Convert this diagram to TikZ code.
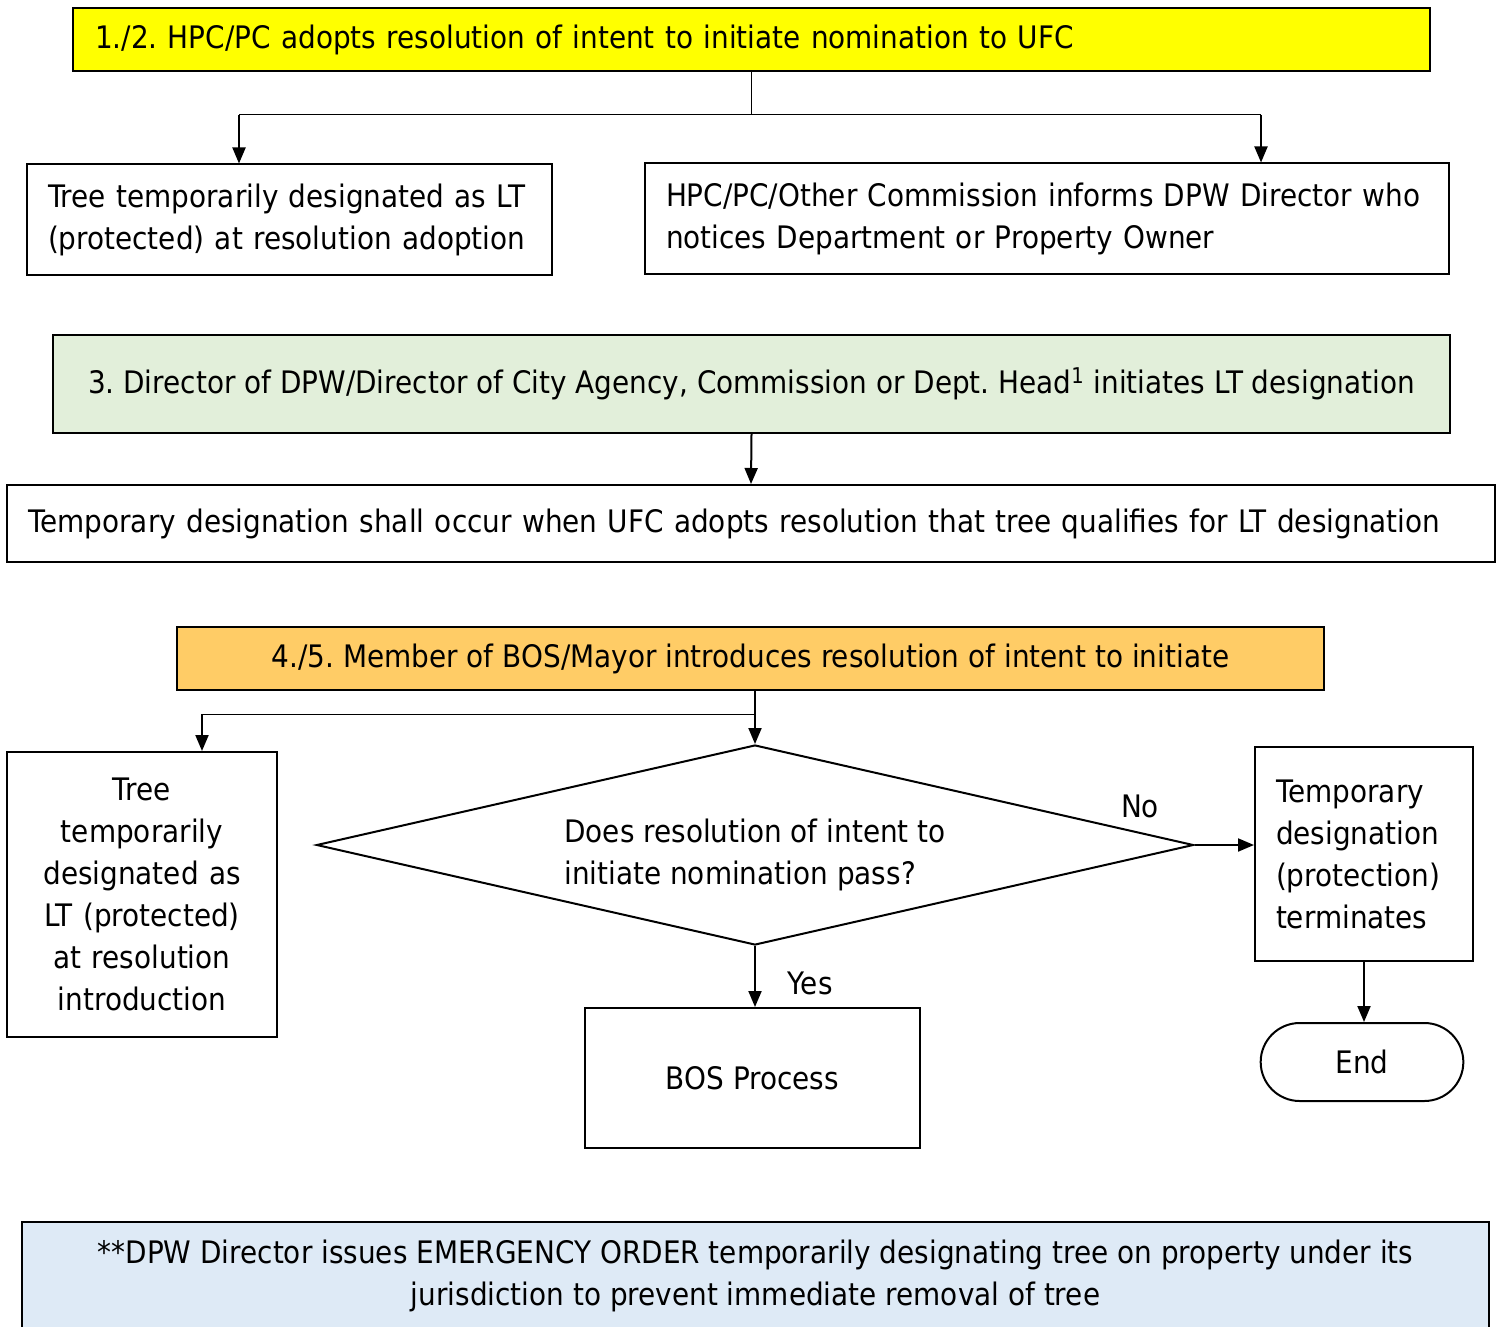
\documentclass[tikz,border=0pt]{standalone}
\usepackage{fontspec}
\setmainfont{DejaVu Sans}[FakeStretch=0.9]
\usetikzlibrary{positioning, arrows, arrows.meta, shapes.geometric, shapes.misc}
\definecolor{stepyellow}{RGB}{255,255,0}
\definecolor{stepgreen}{RGB}{226,239,218}
\definecolor{steporange}{RGB}{255,204,102}
\definecolor{stepblue}{RGB}{222,234,246}
\frenchspacing

\begin{document}
\begin{tikzpicture}[x=0.5pt,y=-0.5pt,>={Triangle[length=8pt,width=6.5pt]},
    font=\fontsize{15.5}{21}\selectfont,
    base box/.style={rectangle,draw,line width=1pt,inner ysep=0pt,inner xsep=10.5pt},
    left box/.style={base box,align=left},
    mid box/.style={base box,align=center},
    flow/.style={->,line width=1pt},
    branch/.style={line width=0.5pt}]

\useasboundingbox (0,0) rectangle (1502,1326);

% first stage
\node[left box,fill=stepyellow,text width=656.5pt,inner xsep=11pt,minimum height=31.5pt]
    (ufc) at (751.5,39.5) {1./2. HPC/PC adopts resolution of intent to initiate nomination to UFC};
\node[left box,text width=241.5pt,minimum height=55.5pt]
    (lt) at (289.5,220) {Tree temporarily designated as LT\\(protected) at resolution adoption};
\node[left box,text width=381pt,minimum height=55.5pt]
    (dpw) at (1047,219) {HPC/PC/Other Commission informs DPW Director who\\notices Department or Property Owner};

\coordinate (splitL) at (239,115);
\coordinate (splitR) at (1261,115);
\draw[branch] (ufc.south) -- (ufc.south |- splitL);
\draw[branch] (splitL) -- (splitR);
\draw[flow] (splitL) -- (splitL |- lt.north);
\draw[flow] (splitR) -- (splitR |- dpw.north);

% second stage
\node[mid box,fill=stepgreen,minimum width=698.5pt,minimum height=49pt]
    (head) at (751.5,384) {3. Director of DPW/Director of City Agency, Commission or Dept. Head\textsuperscript{1} initiates LT designation};
\node[left box,text width=723pt,minimum height=38.5pt]
    (tmp) at (751,523.5) {Temporary designation shall occur when UFC adopts resolution that tree qualifies for LT designation};
\draw[flow] (head.south) -- (tmp.north);

% third stage
\node[mid box,fill=steporange,minimum width=573.5pt,minimum height=31.5pt]
    (bos) at (750.5,658.5) {4./5. Member of BOS/Mayor introduces resolution of intent to initiate};
\node[mid box,text width=114pt,inner xsep=10.5pt,minimum height=142.5pt]
    (intro) at (142,894.5) {Tree\\temporarily\\designated as\\LT (protected)\\at resolution\\introduction};
\node[diamond,draw,line width=1pt,align=left,aspect=4.4,inner sep=0pt,
    minimum width=438.5pt,minimum height=100pt]
    (pass) at (755,845) {\rule{0pt}{22pt}Does resolution of intent to\\initiate nomination pass?};
\node[left box,text width=88pt,minimum height=107pt]
    (term) at (1364,854) {Temporary\\designation\\(protection)\\terminates};
\node[rounded rectangle,draw,line width=1pt,minimum width=108pt,minimum height=39pt]
    (end) at (1362,1062) {End};
\node[mid box,minimum width=167.5pt,minimum height=70pt]
    (process) at (752.5,1078) {BOS Process};

\coordinate (splitT) at (202,714);
\draw[flow] (bos.south -| pass.north) -- (pass.north);
\draw[branch] (pass.north |- splitT) -- (splitT);
\draw[flow] (splitT) -- (splitT |- intro.north);
\draw[flow] (pass.east) -- (pass.east -| term.west);
\draw[flow] (pass.south) -- (pass.south |- process.north);
\draw[flow] (term.south) -- (term.south |- end.north);
\node (no) at (1140,806) {No};
\node (yes) at (810,983) {Yes};

% emergency order
\node[mid box,fill=stepblue,minimum width=733.5pt,minimum height=54.5pt]
    (order) at (755.5,1276) {**DPW Director issues EMERGENCY ORDER temporarily designating tree on property under its\\jurisdiction to prevent immediate removal of tree};
\end{tikzpicture}
\end{document}
